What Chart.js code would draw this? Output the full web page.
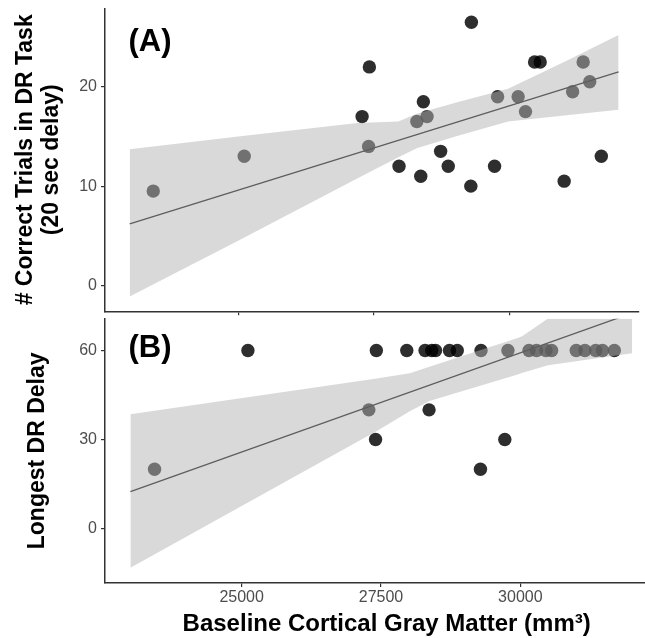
<!DOCTYPE html>
<html>
<head>
<meta charset="utf-8">
<script src="https://cdn.jsdelivr.net/npm/chart.js"></script>
<style>
html, body { margin: 0; padding: 0; background: #fff; overflow: hidden; }
#wrap { position: relative; width: 645px; height: 638px; overflow: hidden; }
#chartA { position: absolute; left: 0; top: 0; }
#chartB { position: absolute; left: 0; top: 312px; }
</style>
</head>
<body>
<div id="wrap">
  <canvas id="chartA" width="645" height="318"></canvas>
  <canvas id="chartB" width="675" height="326"></canvas>
</div>
<script>
// ---------------------------------------------------------------- data
// one entry per subject, same order in every array
var grayMatter    = [23437, 25112, 27282, 27402, 27416, 27962, 28290, 28362, 28410, 28478, 28728, 28868, 29284, 29294,
                     29721, 29777, 30155, 30290, 30458, 30561, 31002, 31158, 31352, 31473, 31686];
var correctTrials = [9.5, 13, 17, 14, 22, 12, 16.5, 11, 18.5, 17, 13.5, 12, 10, 26.5,
                     12, 19, 19, 17.5, 22.5, 22.5, 10.5, 19.5, 22.5, 20.5, 13];
var longestDelay  = [20, 60, 40, 30, 60, 60, 60, 40, 60, 60, 60, 60, 20, 60,
                     30, 60, 60, 60, 60, 60, 60, 60, 60, 60, 60];

// linear fit (end points) and confidence band, panel A
var fitX   = [23004, 32004];
var fitA   = [6.2, 21.5];
var bandXA = [23004, 25000, 27200, 27950, 28300, 29000, 29970, 31000, 32004];
var bandUpA = [13.7, 15.0, 16.35, 16.5, 17.3, 18.4, 19.8, 22.5, 25.2];
var bandLoA = [-1.1, 4.5, 10.8, 12.9, 13.85, 15.0, 16.5, 17.1, 17.7];

// linear fit and confidence band, panel B
var fitB   = [12.5, 72.6];
var bandXB = [23004, 27424, 28016, 28369, 29965, 30025, 30496, 32004];
var bandUpB = [38.5, 50.6, 52.3, 54.5, 64.3, 64.7, 70.8, 86];
var bandLoB = [-13.2, 32.9, 39.5, 43.0, 52.0, 52.4, 55.0, 59.1];

// ticks
var xTicks  = [25000, 27500, 30000];
var yTicksA = [0, 10, 20];
var yTicksB = [0, 30, 60];

// ---------------------------------------------------------------- helpers
function pairs(xs, ys) {
    var out = [];
    for (var i = 0; i < xs.length; i++) out.push({ x: xs[i], y: ys[i] });
    return out;
}

function setTicks(list) {
    return function (scale) {
        scale.ticks = list.map(function (v) { return { value: v }; });
    };
}

// plain numbers, no thousands separator
function plain(value) {
    return String(value);
}

// draws "(A)" / "(B)" in the top left corner of the plot
var panelLabel = {
    id: 'panelLabel',
    afterDraw: function (chart, args, opts) {
        var ctx = chart.ctx;
        ctx.save();
        ctx.font = 'bold 31px "Liberation Sans", Arial, sans-serif';
        ctx.fillStyle = '#000';
        ctx.textBaseline = 'alphabetic';
        ctx.fillText(opts.text, chart.chartArea.left + 23.5, chart.chartArea.top + opts.dy);
        ctx.restore();
    }
};

var axisColor = '#333';
var tickFont = { family: 'Liberation Sans', size: 16 };
var titleFont = { family: 'Liberation Sans', size: 23, weight: 'bold', lineHeight: 1.1 };
var xTitleFont = { family: 'Liberation Sans', size: 24, weight: 'bold', lineHeight: 1.1 };
var ribbonColor = 'rgba(180,180,180,0.5)';

function makePanel(id, cfg) {
    var ctx = document.getElementById(id).getContext('2d');
    return new Chart(ctx, {
        type: 'line',
        data: {
            datasets: [
                {   // fitted line (drawn last, on top)
                    data: pairs(fitX, cfg.fit),
                    borderColor: '#5e5e5e',
                    borderWidth: 1.3,
                    pointRadius: 0,
                    clip: 0
                },
                {   // upper edge of band
                    data: pairs(cfg.bandX, cfg.bandUp),
                    borderColor: 'rgba(0,0,0,0)',
                    borderWidth: 0,
                    pointRadius: 0,
                    fill: false,
                    clip: 0
                },
                {   // lower edge, filled up to dataset 1
                    data: pairs(cfg.bandX, cfg.bandLo),
                    borderColor: 'rgba(0,0,0,0)',
                    borderWidth: 0,
                    backgroundColor: ribbonColor,
                    pointRadius: 0,
                    fill: 1,
                    clip: 0
                },
                {   // subjects (drawn first, under the band)
                    data: pairs(grayMatter, cfg.values),
                    showLine: false,
                    pointRadius: 6.7,
                    pointBorderWidth: 0,
                    pointBorderColor: 'rgba(0,0,0,0)',
                    pointBackgroundColor: 'rgba(0,0,0,0.82)'
                }
            ]
        },
        options: {
            responsive: false,
            animation: false,
            events: [],
            layout: { padding: { top: cfg.padTop, right: 0, bottom: 0, left: 0 } },
            plugins: {
                legend: { display: false },
                tooltip: { enabled: false },
                panelLabel: { text: cfg.label, dy: cfg.labelDy }
            },
            scales: {
                x: {
                    type: 'linear',
                    min: cfg.xMin,
                    max: cfg.xMax,
                    afterBuildTicks: setTicks(xTicks),
                    afterFit: function (scale) {
                        scale.height = cfg.xHeight;
                        scale.paddingLeft = 0;
                        scale.paddingRight = 0;
                    },
                    grid: { drawOnChartArea: false, drawTicks: true, tickLength: 4, color: axisColor, lineWidth: 1.2 },
                    border: { display: true, color: axisColor, width: 1.5 },
                    ticks: { display: cfg.showX, font: tickFont, color: '#4d4d4d', padding: 1, maxRotation: 0, callback: plain },
                    title: {
                        display: cfg.showX,
                        text: 'Baseline Cortical Gray Matter (mm³)',
                        font: xTitleFont,
                        color: '#000',
                        padding: { top: 0, bottom: 0 }
                    }
                },
                y: {
                    min: cfg.yMin,
                    max: cfg.yMax,
                    afterBuildTicks: setTicks(cfg.yTicks),
                    afterFit: function (scale) {
                        scale.width = 105;
                        scale.paddingTop = 0;
                        scale.paddingBottom = 0;
                    },
                    grid: { drawOnChartArea: false, drawTicks: true, tickLength: 4, color: axisColor, lineWidth: 1.2 },
                    border: { display: true, color: axisColor, width: 1.5 },
                    ticks: { font: tickFont, color: '#4d4d4d', padding: 4, callback: plain },
                    title: {
                        display: true,
                        text: cfg.yTitle,
                        font: titleFont,
                        color: '#000',
                        padding: { top: cfg.yTitlePad, bottom: 0 }
                    }
                }
            }
        },
        plugins: [panelLabel]
    });
}

// ---------------------------------------------------------------- panels
var chartA = makePanel('chartA', {
    values: correctTrials, fit: fitA,
    bandX: bandXA, bandUp: bandUpA, bandLo: bandLoA,
    yTicks: yTicksA, yMin: -2.6, yMax: 27.9,
    xMin: 22549, xMax: 32367, xHeight: 6, showX: false,
    padTop: 8.3, label: '(A)', labelDy: 42.4,
    yTitle: ['# Correct Trials in DR Task', '(20 sec delay)'], yTitlePad: 13.5
});

var chartB = makePanel('chartB', {
    values: longestDelay, fit: fitB,
    bandX: bandXB, bandUp: bandUpB, bandLo: bandLoB,
    yTicks: yTicksB, yMin: -18.3, yMax: 70.7,
    xMin: 22548, xMax: 32654, xHeight: 55, showX: true,
    padTop: 5, label: '(B)', labelDy: 38.1,
    yTitle: 'Longest DR Delay', yTitlePad: 25
});
</script>
</body>
</html>
